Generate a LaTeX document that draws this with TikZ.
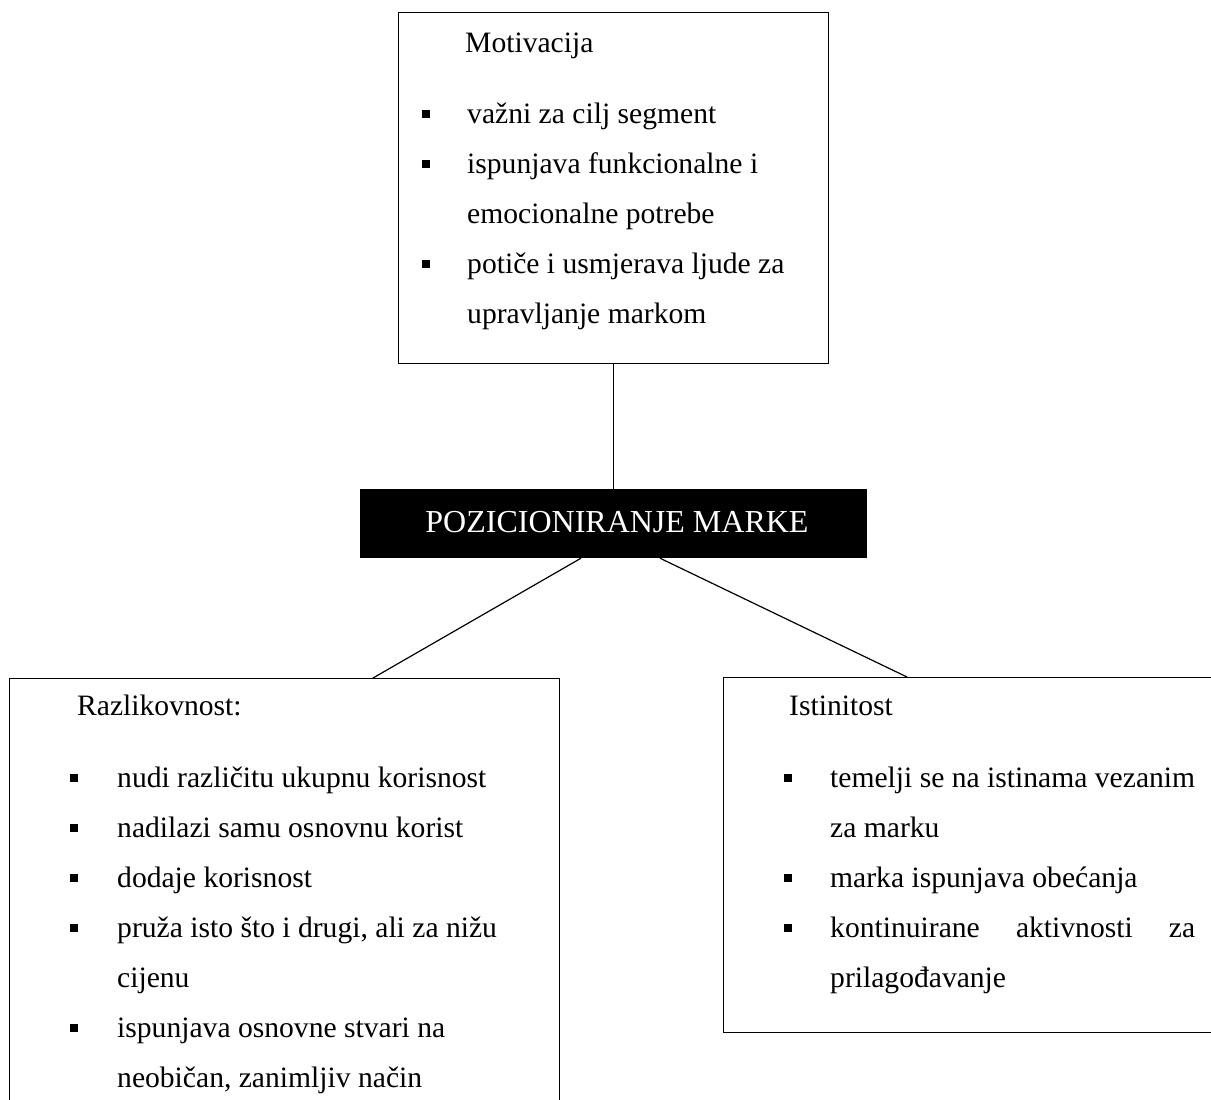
\documentclass[tikz,border=0pt]{standalone}
\usepackage{fontspec}
\setmainfont{Liberation Serif}
\usetikzlibrary{calc}
\begin{document}
\begin{tikzpicture}[x=1pt,y=-1pt,
  box/.style={draw, line width=1.2pt, inner sep=0, anchor=north west},
  txt/.style={anchor=base west, inner sep=0, font=\fontsize{29.6}{35}\selectfont},
  blt/.style={fill=black, inner sep=0, minimum size=8.5pt},
  conn/.style={line width=1.2pt}]
\useasboundingbox (0,0) rectangle (1211,1100);
\begin{scope}
\clip (0,0) rectangle (1211,1100);
% boxes
\node[box, minimum width=430pt, minimum height=351pt] (mot) at (398,12) {};
\node[box, fill=black, minimum width=506pt, minimum height=68pt] (poz) at (360,489) {};
\node[box, minimum width=550pt, minimum height=500pt] (raz) at (9,678) {};
\node[box, minimum width=600pt, minimum height=355pt] (ist) at (723,677) {};
% connectors
\draw[conn] (mot.south) -- (mot.south |- poz.north);
\draw[conn] ($(poz.south west)+(221,0)$) -- ($(raz.north west)+(364,0)$);
\draw[conn] ($(poz.south west)+(300,0)$) -- ($(ist.north west)+(184,0)$);
% central label
\node[anchor=base, inner sep=0, text=white, font=\fontsize{32}{38}\selectfont] (pozt) at (617,532) {POZICIONIRANJE MARKE};
% Motivacija
\node[txt] (mt) at (465,52) {Motivacija};
\node[blt] (mb1) at (426,114) {};
\node[txt] (m1) at (467,123) {važni za cilj segment};
\node[blt] (mb2) at (426,164) {};
\node[txt] (m2) at (467,173) {ispunjava funkcionalne i};
\node[txt] (m2b) at (467,223) {emocionalne potrebe};
\node[blt] (mb3) at (426,264) {};
\node[txt] (m3) at (467,273) {potiče i usmjerava ljude za};
\node[txt] (m3b) at (467,323) {upravljanje markom};
% Razlikovnost
\node[txt] (rt) at (77,715) {Razlikovnost:};
\node[blt] (rb1) at (74,778) {};
\node[txt] (r1) at (117,787) {nudi različitu ukupnu korisnost};
\node[blt] (rb2) at (74,828) {};
\node[txt] (r2) at (117,837) {nadilazi samu osnovnu korist};
\node[blt] (rb3) at (74,878) {};
\node[txt] (r3) at (117,887) {dodaje korisnost};
\node[blt] (rb4) at (74,928) {};
\node[txt] (r4) at (117,937) {pruža isto što i drugi, ali za nižu};
\node[txt] (r4b) at (117,987) {cijenu};
\node[blt] (rb5) at (74,1028) {};
\node[txt] (r5) at (117,1037) {ispunjava osnovne stvari na};
\node[txt] (r5b) at (117,1087) {neobičan, zanimljiv način};
% Istinitost
\node[txt] (it) at (789,715) {Istinitost};
\node[blt] (ib1) at (788,778) {};
\node[txt] (i1) at (830,787) {temelji se na istinama vezanim};
\node[txt] (i1b) at (830,837) {za marku};
\node[blt] (ib2) at (788,878) {};
\node[txt] (i2) at (830,887) {marka ispunjava obećanja};
\node[blt] (ib3) at (788,928) {};
\node[txt] (i3) at (830,937) {\makebox[365pt][s]{kontinuirane aktivnosti za}};
\node[txt] (i3b) at (830,987) {prilagođavanje};
\end{scope}
\end{tikzpicture}
\end{document}
